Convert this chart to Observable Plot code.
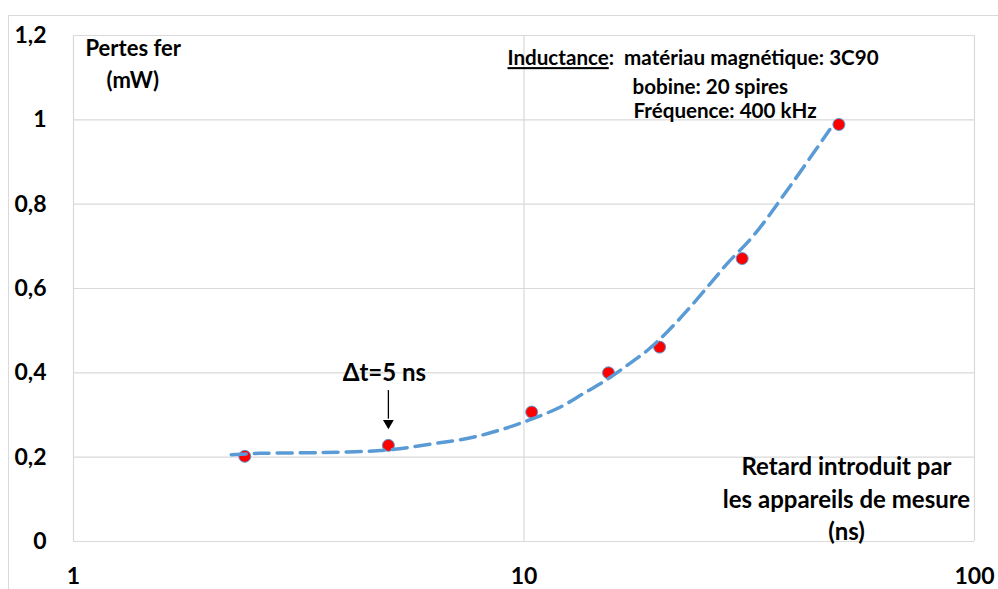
<!DOCTYPE html>
<html>
<head>
<meta charset="utf-8">
<script src="https://cdn.jsdelivr.net/npm/d3@7"></script>
<script src="https://cdn.jsdelivr.net/npm/@observablehq/plot@0.6"></script>
<style>
  html, body { margin: 0; padding: 0; background: #fff; }
  #wrap { position: relative; width: 998px; height: 589px; overflow: hidden; }
  #border { position: absolute; left: 8px; top: 15px; right: -2px; bottom: -2px;
            border-top: 1px solid #d9d9d9; border-left: 1px solid #d9d9d9; }
  #chart { position: absolute; left: 0; top: 0; }
</style>
</head>
<body>
<div id="wrap"><div id="border"></div><div id="chart"></div></div>
<script>
// ---- data ----
const xTicks = [1, 10, 100];
const yTicks = [0, 0.2, 0.4, 0.6, 0.8, 1, 1.2];

// measured points: retard (ns) vs pertes fer (mW)
const retard = [2.4, 5, 10.4, 15.4, 20, 30.5, 50];
const pertes = [0.202, 0.228, 0.307, 0.400, 0.461, 0.671, 0.989];

// dashed trend curve
const trendX = [2.24, 2.60, 3.54, 4.97, 6.30, 7.61, 9.01, 10.5, 12.05, 13.56, 15.17, 16.95, 18.77, 20.79, 23.03, 25.51, 28.25, 32.36, 38.39, 47.74];
const trendY = [0.206, 0.209, 0.211, 0.217, 0.232, 0.246, 0.267, 0.292, 0.319, 0.351, 0.382, 0.418, 0.453, 0.497, 0.548, 0.603, 0.659, 0.726, 0.833, 0.977];

// texts
const yLabel = ["Pertes fer", "(mW)"];
const infoLines = ["Inductance:\u00a0\u00a0matériau magnétique: 3C90", "bobine: 20 spires", "Fréquence: 400 kHz"];
const xLabel = ["Retard introduit par", "les appareils de mesure", "(ns)"];
const deltaT = 5;
const deltaLabel = "Δt=5 ns";

// ---- build ----
const points = retard.map((x, i) => ({x, y: pertes[i]}));
const trend = trendX.map((x, i) => ({x, y: trendY[i]}));
const fmtY = d => String(d).replace(".", ",");
const grid = "#d9d9d9";
const font = "Lato";
const W = "bold";

const txt = (s, dx, dy, size, anchor = "start") =>
  Plot.text([s], {text: d => d, frameAnchor: "top-left", dx, dy, textAnchor: anchor,
                  lineAnchor: "middle", fontSize: size, fontWeight: W, fill: "#000"});

const chart = Plot.plot({
  width: 998,
  height: 589,
  marginLeft: 73,
  marginRight: 24,
  marginTop: 35,
  marginBottom: 48,
  x: {type: "log", domain: [1, 100]},
  y: {domain: [0, 1.2]},
  style: {fontFamily: font, color: "#000", background: "transparent", overflow: "visible"},
  marks: [
    Plot.gridY(yTicks, {stroke: grid, strokeOpacity: 1, strokeWidth: 1.2}),
    Plot.gridX(xTicks, {stroke: grid, strokeOpacity: 1, strokeWidth: 1.2}),
    Plot.axisY(yTicks, {tickSize: 0, tickPadding: 27, fontSize: 23, fontWeight: W, tickFormat: fmtY, label: null}),
    Plot.axisX(xTicks, {tickSize: 0, tickPadding: 26, fontSize: 23, fontWeight: W, tickFormat: d => String(d), label: null}),
    Plot.dot(points, {x: "x", y: "y", r: 6, fill: "#ff0000", stroke: "#5b9bd5", strokeWidth: 1}),
    Plot.line(trend, {x: "x", y: "y", curve: "catmull-rom", stroke: "#5b9bd5", strokeWidth: 3.5, strokeDasharray: "15,8"}),
    // Δt annotation
    Plot.text([deltaT], {x: d => d, y: 0.399, text: () => deltaLabel, dx: -4, fontSize: 24, fontWeight: W, fill: "#000", lineAnchor: "middle"}),
    Plot.ruleX([deltaT], {x: d => d, y1: 0.358, y2: 0.29, stroke: "#000", strokeWidth: 1.3}),
    Plot.dot([deltaT], {x: d => d, y: 0.281, symbol: "triangle", rotate: 180, r: 4, fill: "#000", stroke: null}),
    // axis titles inside the frame
    txt(yLabel[0], 12, 13, 22),
    txt(yLabel[1], 33, 45, 22),
    txt(infoLines[0], 434, 23, 20.6),
    txt(infoLines[1], 559, 52, 20.6),
    txt(infoLines[2], 560, 76, 20.6),
    txt(xLabel[0], 773, 432, 24, "middle"),
    txt(xLabel[1], 773, 465, 24, "middle"),
    txt(xLabel[2], 773, 497, 24, "middle")
  ]
});

// underline "Inductance"
d3.select(chart).selectAll("text").each(function() {
  if (this.textContent.startsWith("Inductance")) {
    const rest = this.textContent.slice("Inductance".length);
    this.textContent = "";
    d3.select(this).append("tspan").attr("text-decoration", "underline").text("Inductance");
    d3.select(this).append("tspan").text(rest);
  }
});

document.getElementById("chart").appendChild(chart);
</script>
</body>
</html>
